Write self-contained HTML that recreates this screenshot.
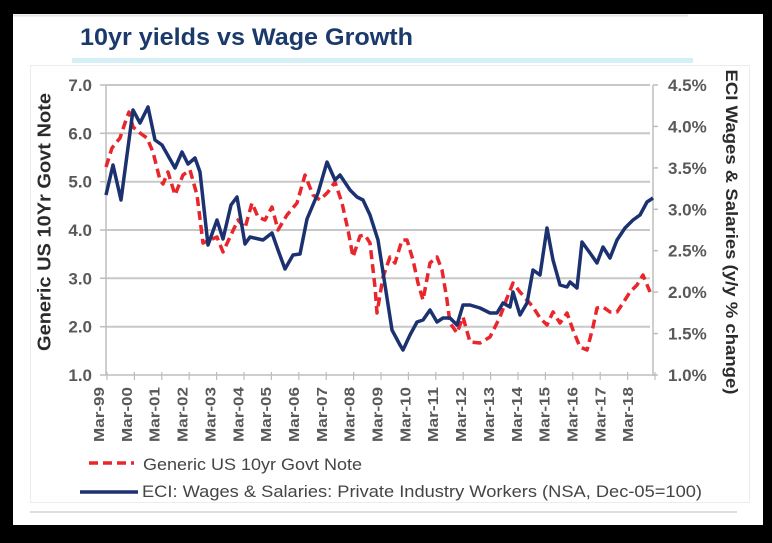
<!DOCTYPE html>
<html><head><meta charset="utf-8"><style>
html,body{margin:0;padding:0;background:#000;}
svg{display:block;}
text{font-family:"Liberation Sans",Arial,sans-serif;}
</style></head><body>
<svg width="772" height="543" viewBox="0 0 772 543" xmlns="http://www.w3.org/2000/svg">
<rect x="0" y="0" width="772" height="543" fill="#000"/>
<rect x="13" y="14" width="750" height="511" fill="#fff"/>
<line x1="13" y1="15.5" x2="688" y2="15.5" stroke="#e4e4e4" stroke-width="2"/>
<!-- title -->
<text x="80" y="45" font-size="24" font-weight="bold" fill="#1b3a6b" textLength="333" lengthAdjust="spacingAndGlyphs">10yr yields vs Wage Growth</text>
<rect x="72" y="58" width="621" height="5" fill="#d5eff6"/>
<!-- faint frame -->
<rect x="30.5" y="65.5" width="719" height="437" fill="none" stroke="#ececec" stroke-width="1"/>
<line x1="30" y1="512" x2="737" y2="512" stroke="#dedede" stroke-width="2"/>
<!-- gridlines -->
<g stroke="#c8c8c8" stroke-width="2">
<line x1="106" y1="85" x2="650" y2="85"/>
<line x1="106" y1="133.3" x2="650" y2="133.3"/>
<line x1="106" y1="181.7" x2="650" y2="181.7"/>
<line x1="106" y1="230" x2="650" y2="230"/>
<line x1="106" y1="278.3" x2="650" y2="278.3"/>
<line x1="106" y1="326.7" x2="650" y2="326.7"/>
</g>
<!-- axes -->
<g stroke="#bdbdbd" stroke-width="1.5">
<line x1="106" y1="85" x2="106" y2="375"/>
<line x1="653" y1="85" x2="653" y2="375"/>
<line x1="106" y1="375" x2="655" y2="375"/>
<line x1="100" y1="85" x2="106" y2="85"/>
<line x1="100" y1="133.3" x2="106" y2="133.3"/>
<line x1="100" y1="181.7" x2="106" y2="181.7"/>
<line x1="100" y1="230" x2="106" y2="230"/>
<line x1="100" y1="278.3" x2="106" y2="278.3"/>
<line x1="100" y1="326.7" x2="106" y2="326.7"/>
<line x1="100" y1="375" x2="106" y2="375"/>
<line x1="653" y1="85" x2="658" y2="85"/>
<line x1="653" y1="126.4" x2="658" y2="126.4"/>
<line x1="653" y1="167.9" x2="658" y2="167.9"/>
<line x1="653" y1="209.3" x2="658" y2="209.3"/>
<line x1="653" y1="250.7" x2="658" y2="250.7"/>
<line x1="653" y1="292.1" x2="658" y2="292.1"/>
<line x1="653" y1="333.6" x2="658" y2="333.6"/>
<line x1="653" y1="375" x2="658" y2="375"/>
</g>
<g stroke="#bdbdbd" stroke-width="1.2">
<line x1="107" y1="372" x2="107" y2="380"/><line x1="134.4" y1="372" x2="134.4" y2="380"/><line x1="161.8" y1="372" x2="161.8" y2="380"/><line x1="189.2" y1="372" x2="189.2" y2="380"/><line x1="216.6" y1="372" x2="216.6" y2="380"/><line x1="244" y1="372" x2="244" y2="380"/><line x1="271.4" y1="372" x2="271.4" y2="380"/><line x1="298.8" y1="372" x2="298.8" y2="380"/><line x1="326.2" y1="372" x2="326.2" y2="380"/><line x1="353.6" y1="372" x2="353.6" y2="380"/><line x1="381" y1="372" x2="381" y2="380"/><line x1="408.4" y1="372" x2="408.4" y2="380"/><line x1="435.8" y1="372" x2="435.8" y2="380"/><line x1="463.2" y1="372" x2="463.2" y2="380"/><line x1="490.6" y1="372" x2="490.6" y2="380"/><line x1="518" y1="372" x2="518" y2="380"/><line x1="545.4" y1="372" x2="545.4" y2="380"/><line x1="572.8" y1="372" x2="572.8" y2="380"/><line x1="600.2" y1="372" x2="600.2" y2="380"/><line x1="627.6" y1="372" x2="627.6" y2="380"/><line x1="655" y1="372" x2="655" y2="380"/>
</g>
<!-- left tick labels -->
<g font-size="17" font-weight="bold" fill="#595959" text-anchor="end">
<text x="92" y="91">7.0</text>
<text x="92" y="139.3">6.0</text>
<text x="92" y="187.7">5.0</text>
<text x="92" y="236">4.0</text>
<text x="92" y="284.3">3.0</text>
<text x="92" y="332.7">2.0</text>
<text x="92" y="381">1.0</text>
</g>
<!-- right tick labels -->
<g font-size="17" font-weight="bold" fill="#595959">
<text x="668" y="91">4.5%</text>
<text x="668" y="132.4">4.0%</text>
<text x="668" y="173.9">3.5%</text>
<text x="668" y="215.3">3.0%</text>
<text x="668" y="256.7">2.5%</text>
<text x="668" y="298.1">2.0%</text>
<text x="668" y="339.6">1.5%</text>
<text x="668" y="381">1.0%</text>
</g>
<!-- x labels -->
<g font-size="15" font-weight="bold" fill="#595959" text-anchor="end">
<text transform="translate(104,387) rotate(-90)" textLength="55" lengthAdjust="spacingAndGlyphs">Mar-99</text>
<text transform="translate(131.85,387) rotate(-90)" textLength="55" lengthAdjust="spacingAndGlyphs">Mar-00</text>
<text transform="translate(159.7,387) rotate(-90)" textLength="55" lengthAdjust="spacingAndGlyphs">Mar-01</text>
<text transform="translate(187.55,387) rotate(-90)" textLength="55" lengthAdjust="spacingAndGlyphs">Mar-02</text>
<text transform="translate(215.4,387) rotate(-90)" textLength="55" lengthAdjust="spacingAndGlyphs">Mar-03</text>
<text transform="translate(243.25,387) rotate(-90)" textLength="55" lengthAdjust="spacingAndGlyphs">Mar-04</text>
<text transform="translate(271.1,387) rotate(-90)" textLength="55" lengthAdjust="spacingAndGlyphs">Mar-05</text>
<text transform="translate(298.95,387) rotate(-90)" textLength="55" lengthAdjust="spacingAndGlyphs">Mar-06</text>
<text transform="translate(326.8,387) rotate(-90)" textLength="55" lengthAdjust="spacingAndGlyphs">Mar-07</text>
<text transform="translate(354.65,387) rotate(-90)" textLength="55" lengthAdjust="spacingAndGlyphs">Mar-08</text>
<text transform="translate(382.5,387) rotate(-90)" textLength="55" lengthAdjust="spacingAndGlyphs">Mar-09</text>
<text transform="translate(410.35,387) rotate(-90)" textLength="55" lengthAdjust="spacingAndGlyphs">Mar-10</text>
<text transform="translate(438.2,387) rotate(-90)" textLength="55" lengthAdjust="spacingAndGlyphs">Mar-11</text>
<text transform="translate(466.05,387) rotate(-90)" textLength="55" lengthAdjust="spacingAndGlyphs">Mar-12</text>
<text transform="translate(493.9,387) rotate(-90)" textLength="55" lengthAdjust="spacingAndGlyphs">Mar-13</text>
<text transform="translate(521.75,387) rotate(-90)" textLength="55" lengthAdjust="spacingAndGlyphs">Mar-14</text>
<text transform="translate(549.6,387) rotate(-90)" textLength="55" lengthAdjust="spacingAndGlyphs">Mar-15</text>
<text transform="translate(577.45,387) rotate(-90)" textLength="55" lengthAdjust="spacingAndGlyphs">Mar-16</text>
<text transform="translate(605.3,387) rotate(-90)" textLength="55" lengthAdjust="spacingAndGlyphs">Mar-17</text>
<text transform="translate(633.15,387) rotate(-90)" textLength="55" lengthAdjust="spacingAndGlyphs">Mar-18</text>
</g>
<!-- axis titles -->
<text transform="translate(50.5,222) rotate(-90)" font-size="18" font-weight="bold" fill="#2b2b2b" text-anchor="middle" textLength="258" lengthAdjust="spacingAndGlyphs">Generic US 10Yr Govt Note</text>
<text transform="translate(726,232) rotate(90)" font-size="17" font-weight="bold" fill="#2b2b2b" text-anchor="middle" textLength="325" lengthAdjust="spacingAndGlyphs">ECI Wages &amp; Salaries (y/y % change)</text>
<!-- series -->
<polyline fill="none" stroke="#e8262c" stroke-width="3.5" stroke-dasharray="9,5" stroke-linejoin="round" points="106,167 112,148 120,138 127,117 129,112 133,127 140,133 147,138 153,152 160,180 163,184 168,172 175,195 183,175 190,170 197,195 203,243 210,240 217,237 223,252 230,237 238,220 245,228 252,203 258,217 265,220 272,207 278,230 287,215 297,203 305,175 313,195 320,200 328,192 335,182 342,203 348,230 353,257 360,236 365,235 370,243 375,287 377,313 383,277 390,257 395,263 402,240 407,240 413,260 418,283 423,300 430,263 437,257 442,270 447,300 450,323 457,333 463,317 470,342 480,343 490,337 497,323 500,317 507,298 513,283 520,292 527,300 533,307 540,318 547,325 553,312 560,323 567,313 573,330 580,347 587,350 593,327 597,308 603,307 610,312 617,312 623,303 630,292 637,285 643,275 650,292"/>
<polyline fill="none" stroke="#1c3270" stroke-width="3.5" stroke-linejoin="round" points="106,195 113,165 121,200 133,110 140,123 148,107 155,140 162,145 175,168 182,152 188,164 195,158 200,172 208,245 217,220 223,239 231,205 237,197 245,244 250,237 263,240 272,233 278,250 285,269 293,255 300,254 307,219 318,193 327,162 335,180 340,175 350,190 357,197 363,200 370,215 378,240 385,285 392,330 400,345 403,350 410,335 417,322 423,320 430,310 437,322 443,318 450,318 457,325 463,305 470,305 480,308 490,313 497,313 503,303 510,307 513,292 520,315 527,303 533,270 540,275 547,228 553,260 560,285 567,287 570,282 577,288 582,242 590,253 597,263 603,247 610,258 617,240 625,228 633,220 640,215 647,202 653,198"/>
<!-- legend -->
<line x1="89" y1="463" x2="134" y2="463" stroke="#e8262c" stroke-width="3.5" stroke-dasharray="9,5"/>
<text x="143" y="470" font-size="17" fill="#454545" textLength="219" lengthAdjust="spacingAndGlyphs">Generic US 10yr Govt Note</text>
<line x1="80" y1="492" x2="138" y2="492" stroke="#1c3270" stroke-width="3.5"/>
<text x="142" y="497" font-size="17" fill="#454545" textLength="560" lengthAdjust="spacingAndGlyphs">ECI: Wages &amp; Salaries: Private Industry Workers (NSA, Dec-05=100)</text>
</svg>
</body></html>
